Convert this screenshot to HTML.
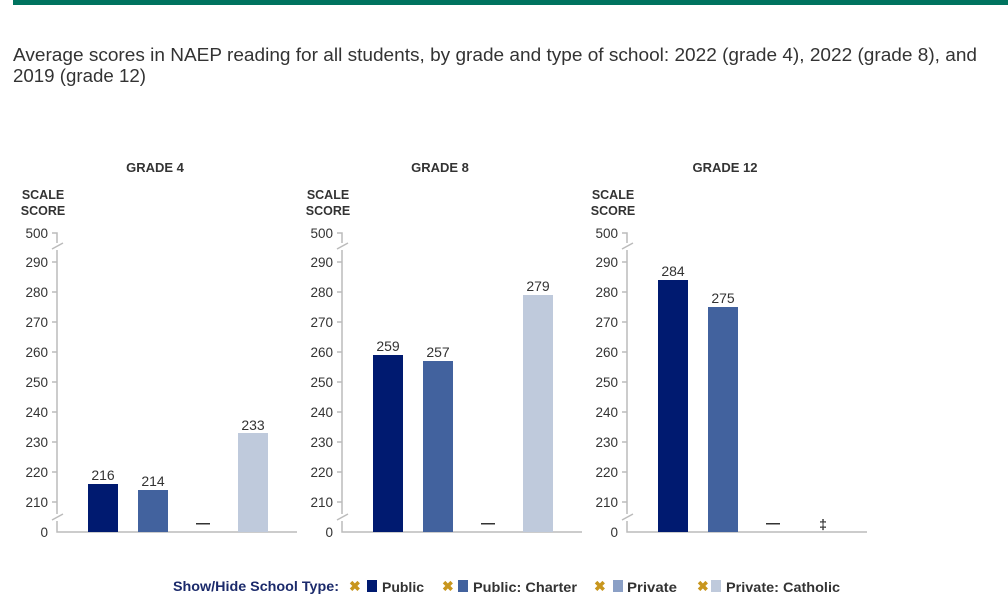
<!DOCTYPE html>
<html><head><style>body{margin:0;background:#fff}svg{display:block}text{font-family:"Liberation Sans",sans-serif;fill:#333}</style></head><body>
<svg width="1008" height="615" viewBox="0 0 1008 615" xmlns="http://www.w3.org/2000/svg">
<rect x="13" y="0" width="995" height="5" fill="#00735f"/>
<text x="13" y="61" font-size="18" textLength="964" lengthAdjust="spacingAndGlyphs">Average scores in NAEP reading for all students, by grade and type of school: 2022 (grade 4), 2022 (grade 8), and</text>
<text x="13" y="82" font-size="18" textLength="133" lengthAdjust="spacingAndGlyphs">2019 (grade 12)</text>
<g font-size="13" font-weight="bold">
<text x="155" y="172" text-anchor="middle">GRADE 4</text>
<text x="440" y="172" text-anchor="middle">GRADE 8</text>
<text x="725" y="172" text-anchor="middle">GRADE 12</text>
</g>
<defs>
<g id="ax">
<text x="43" y="199" font-size="12.5" font-weight="bold" text-anchor="middle">SCALE</text>
<text x="43" y="215" font-size="12.5" font-weight="bold" text-anchor="middle">SCORE</text>
<g font-size="13.5" text-anchor="end">
<text x="48" y="238">500</text>
<text x="48" y="267">290</text><text x="48" y="297">280</text><text x="48" y="327">270</text>
<text x="48" y="357">260</text><text x="48" y="387">250</text><text x="48" y="417">240</text>
<text x="48" y="447">230</text><text x="48" y="477">220</text><text x="48" y="507">210</text>
<text x="48" y="537">0</text>
</g>
<g stroke="#bbb" stroke-width="1.5" fill="none">
<path d="M52 233H57V243"/>
<path d="M57 250V514"/>
<path d="M57 521V532H297"/>
<path d="M52 262H57M52 292H57M52 322H57M52 352H57M52 382H57M52 412H57M52 442H57M52 472H57M52 502H57"/>
<path d="M52 249L63 243M52 520L63 514"/>
</g>
</g>
</defs>
<use href="#ax"/>
<use href="#ax" x="285"/>
<use href="#ax" x="570"/>
<g font-size="14" text-anchor="middle">
<rect x="88" y="484" width="30" height="48" fill="#001a70"/><text x="103" y="480">216</text>
<rect x="138" y="490" width="30" height="42" fill="#42629e"/><text x="153" y="486">214</text>
<rect x="196" y="523" width="14" height="1.5" fill="#333"/>
<rect x="238" y="433" width="30" height="99" fill="#bfcadc"/><text x="253" y="430">233</text>

<rect x="373" y="355" width="30" height="177" fill="#001a70"/><text x="388" y="351">259</text>
<rect x="423" y="361" width="30" height="171" fill="#42629e"/><text x="438" y="357">257</text>
<rect x="481" y="523" width="14" height="1.5" fill="#333"/>
<rect x="523" y="295" width="30" height="237" fill="#bfcadc"/><text x="538" y="291">279</text>

<rect x="658" y="280" width="30" height="252" fill="#001a70"/><text x="673" y="276">284</text>
<rect x="708" y="307" width="30" height="225" fill="#42629e"/><text x="723" y="303">275</text>
<rect x="766" y="523" width="14" height="1.5" fill="#333"/>
<text x="823" y="529" font-weight="bold">‡</text>
</g>
<g font-size="14" font-weight="bold">
<text x="173" y="591" style="fill:#1b2a6b" textLength="166" lengthAdjust="spacingAndGlyphs">Show/Hide School Type:</text>
<text x="349" y="591" style="fill:#c8961e">✖</text><text x="442" y="591" style="fill:#c8961e">✖</text>
<text x="594" y="591" style="fill:#c8961e">✖</text><text x="697" y="591" style="fill:#c8961e">✖</text>
<rect x="367" y="580" width="10" height="12" fill="#001a70"/><text x="382" y="592" textLength="42" lengthAdjust="spacingAndGlyphs">Public</text>
<rect x="458" y="580" width="10" height="12" fill="#42629e"/><text x="473" y="592" textLength="104" lengthAdjust="spacingAndGlyphs">Public: Charter</text>
<rect x="613" y="580" width="10" height="12" fill="#8ba0c6"/><text x="627" y="592" textLength="50" lengthAdjust="spacingAndGlyphs">Private</text>
<rect x="711" y="580" width="10" height="12" fill="#bfcadc"/><text x="726" y="592" textLength="114" lengthAdjust="spacingAndGlyphs">Private: Catholic</text>
</g>
</svg>
</body></html>
